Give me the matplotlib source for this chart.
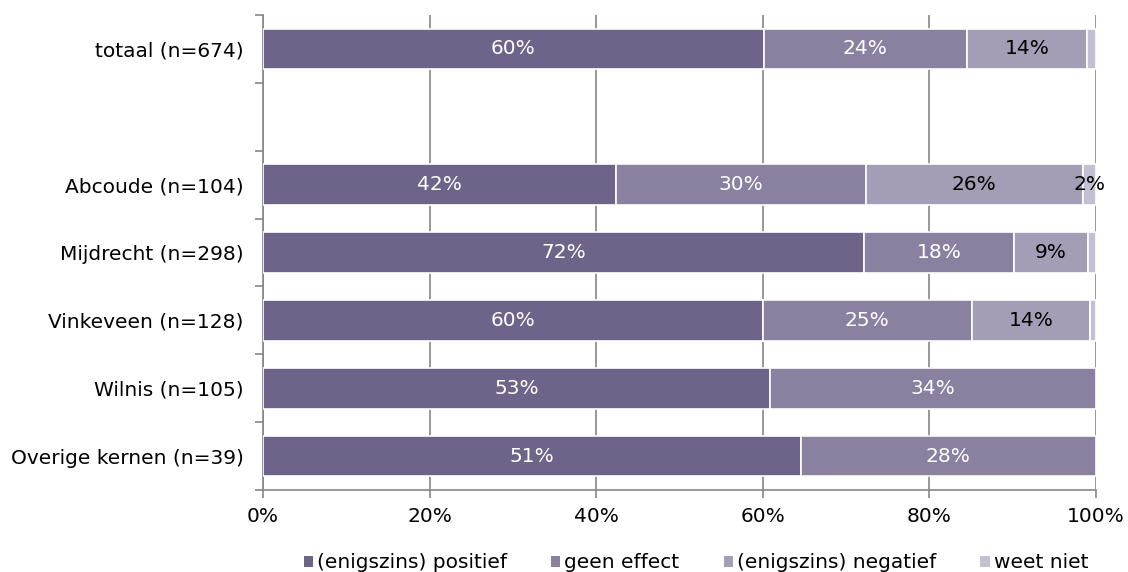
#! /usr/bin/env python3

import numpy as np
import matplotlib.pyplot as plt
from matplotlib.patches import Patch


# Opinion per kern, shares in percent (blank row separates total from kernen).
categories = ["totaal (n=674)", "", "Abcoude (n=104)", "Mijdrecht (n=298)",
              "Vinkeveen (n=128)", "Wilnis (n=105)", "Overige kernen (n=39)"]
series = ["(enigszins) positief", "geen effect", "(enigszins) negatief", "weet niet"]
positief = [60.1, 0, 42.4, 72.1, 60.0, 53.0, 51.0]
geen_effect = [24.4, 0, 30.0, 18.1, 25.1, 34.0, 28.0]
negatief = [14.4, 0, 26.0, 8.8, 14.2, 0, 0]
weet_niet = [1.1, 0, 1.6, 1.0, 0.7, 0, 0]

colors = ["#6e6489", "#8a80a0", "#a39db6", "#c4c0d4"]
text_colors = ["white", "white", "black", "black"]
fs = 14.5

data = np.array([positief, geen_effect, negatief, weet_niet])
totals = data.sum(axis=0)
totals[totals == 0] = 1
shares = data / totals * 100

fig = plt.figure(figsize=(11.28, 5.72), dpi=100)
ax = fig.add_axes([0.2332, 0.1434, 0.7384, 0.8304])

y = np.arange(len(categories))
left = np.zeros(len(categories))
for i, name in enumerate(series):
    keep = shares[i] > 0
    ax.barh(y[keep], shares[i][keep], left=left[keep], height=0.6,
            color=colors[i], edgecolor="white", linewidth=1.2, zorder=3)
    for j in range(len(categories)):
        if data[i, j] >= 1.5:
            ax.text(left[j] + shares[i, j] / 2, y[j], "%d%%" % round(data[i, j]),
                    ha="center", va="center", color=text_colors[i],
                    fontsize=fs, zorder=4)
    left += shares[i]

ax.set_xlim(0, 100)
ax.set_ylim(len(categories) - 0.5, -0.5)
ax.set_xticks(np.arange(0, 101, 20))
ax.set_xticklabels(["%d%%" % v for v in range(0, 101, 20)], fontsize=fs)
ax.set_yticks(y)
ax.set_yticklabels(categories, fontsize=fs)
ax.set_yticks(np.arange(-0.5, len(categories), 1), minor=True)
ax.tick_params(axis="y", which="major", length=0, pad=14)
ax.tick_params(axis="y", which="minor", length=6, color="#868686", width=1.2)
ax.tick_params(axis="x", length=6, color="#868686", width=1.2, pad=6)
ax.xaxis.grid(True, color="#868686", linewidth=1.2, zorder=0)
ax.set_axisbelow(True)

for side in ["top", "right"]:
    ax.spines[side].set_visible(False)
for side in ["left", "bottom"]:
    ax.spines[side].set_color("#868686")
    ax.spines[side].set_linewidth(1.2)

handles = [Patch(facecolor=c, edgecolor="none") for c in colors]
fig.legend(handles, series, loc="center", bbox_to_anchor=(0.617, 0.016),
           ncol=4, frameon=False, fontsize=fs, handlelength=0.45,
           handleheight=0.45, handletextpad=0.2, columnspacing=2.2)

fig.savefig("out.png", dpi=100)
